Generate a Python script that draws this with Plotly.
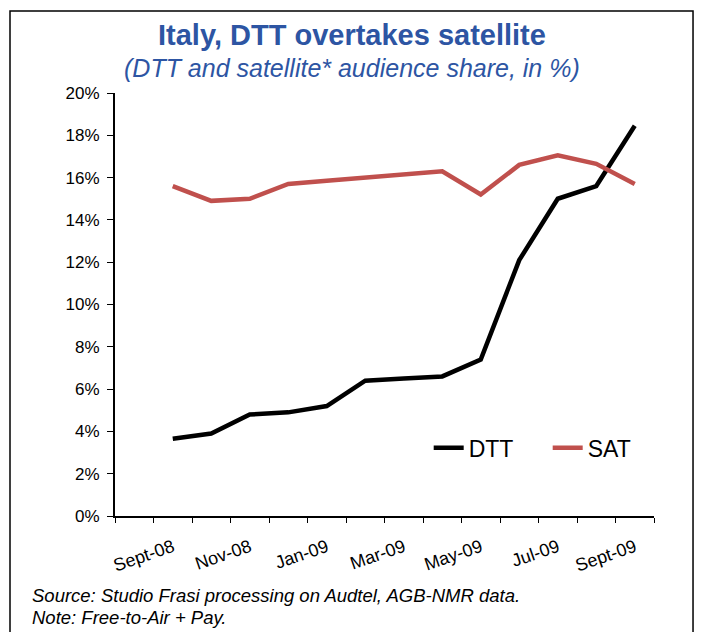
import plotly.graph_objects as go

months = ["Sept-08", "Oct-08", "Nov-08", "Dec-08", "Jan-09", "Feb-09", "Mar-09",
          "Apr-09", "May-09", "Jun-09", "Jul-09", "Aug-09", "Sept-09"]
dtt = [3.65, 3.9, 4.8, 4.9, 5.2, 6.4, 6.5, 6.6, 7.4, 12.1, 15.0, 15.6, 18.45]
sat = [15.6, 14.9, 15.0, 15.7, 15.85, 16.0, 16.2, 16.3, 15.2, 16.6, 17.05, 16.65, 15.7]

x = list(range(len(months)))
blue = "#2D55A3"
red = "#C0504D"

fig = go.Figure()
fig.add_trace(go.Scatter(name="DTT", x=x, y=dtt, mode="lines",
                         line=dict(color="black", width=4.5)))
fig.add_trace(go.Scatter(name="SAT", x=x, y=sat, mode="lines",
                         line=dict(color=red, width=4.5)))

# page has an 8px body margin, so the figure is shifted up-left by 8px
fig.update_layout(
    width=702, height=632,
    margin=dict(l=107, r=56, t=85, b=124),
    paper_bgcolor="white", plot_bgcolor="white",
    font=dict(family="Liberation Sans, Arial", color="black", size=15),
    showlegend=True,
    legend=dict(orientation="h", x=0.582, y=0.161, xanchor="left", yanchor="middle",
                font=dict(size=23), bgcolor="rgba(0,0,0,0)", itemwidth=30,
                entrywidth=74, tracegroupgap=0),
    xaxis=dict(
        range=[-1.5, 12.5], showgrid=False, zeroline=False,
        showline=True, linecolor="black", linewidth=2,
        tickmode="array", tickvals=x[::2], ticktext=months[::2],
        ticks="", tickangle=-19, tickfont=dict(size=18), ticklabelstandoff=12,
        minor=dict(tickmode="linear", tick0=-0.5, dtick=1, ticks="outside",
                   ticklen=5, tickcolor="black", tickwidth=1, showgrid=False),
    ),
    yaxis=dict(
        range=[0, 20], dtick=2, tick0=0, showgrid=False, zeroline=False,
        showline=True, linecolor="black", linewidth=2,
        ticks="outside", ticklen=6, tickcolor="black", tickwidth=1,
        ticksuffix="%", tickfont=dict(size=17), ticklabelstandoff=4,
    ),
    annotations=[
        dict(text="<b>Italy, DTT overtakes satellite</b>", xref="paper", yref="paper",
             x=0.44, y=1.137, xanchor="center", yanchor="middle", showarrow=False,
             font=dict(size=29, color=blue)),
        dict(text="<i>(DTT and satellite* audience share, in %)</i>", xref="paper", yref="paper",
             x=0.44, y=1.059, xanchor="center", yanchor="middle", showarrow=False,
             font=dict(size=25, color=blue)),
        dict(text="<i>Source: Studio Frasi processing on Audtel, AGB-NMR data.</i>",
             xref="paper", yref="paper", x=-0.158, y=-0.187, xanchor="left",
             yanchor="middle", showarrow=False, font=dict(size=18.5)),
        dict(text="<i>Note: Free-to-Air + Pay.</i>",
             xref="paper", yref="paper", x=-0.158, y=-0.239, xanchor="left",
             yanchor="middle", showarrow=False, font=dict(size=18.5)),
    ],
    shapes=[
        dict(type="rect", xref="paper", yref="paper",
             x0=-0.1948, x1=1.0724, y0=-0.30, y1=1.194,
             line=dict(color="black", width=1.5), fillcolor="rgba(0,0,0,0)", layer="below"),
    ],
)

fig.write_html("out.html")
